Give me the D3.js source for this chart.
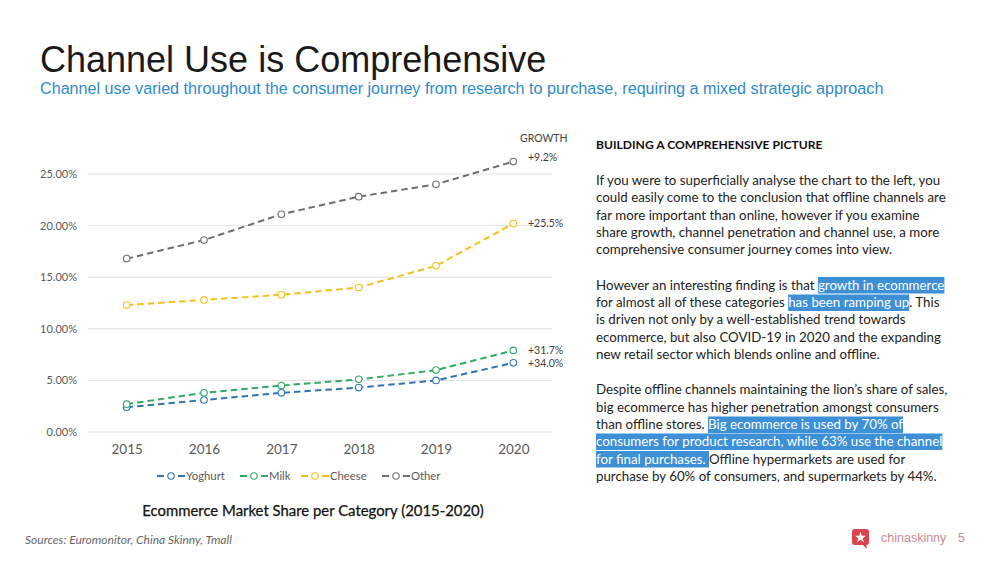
<!DOCTYPE html>
<html><head><meta charset="utf-8">
<script src="https://cdn.jsdelivr.net/npm/d3@7"></script>
<style>
html,body{margin:0;padding:0;background:#fff;}
svg{display:block;}
</style></head>
<body>
<script>
// ---- data ----
const years = ["2015","2016","2017","2018","2019","2020"];
const seriesNames = ["Yoghurt","Milk","Cheese","Other"];
const yoghurt = [2.4, 3.1, 3.8, 4.3, 5.0, 6.7];
const milk    = [2.7, 3.8, 4.5, 5.1, 6.0, 7.9];
const cheese  = [12.3, 12.8, 13.3, 14.0, 16.1, 20.2];
const other   = [16.8, 18.6, 21.1, 22.8, 24.0, 26.2];
const growthLabels = ["+34.0%", "+31.7%", "+25.5%", "+9.2%"];
const yTicks = [0, 5, 10, 15, 20, 25];

const colors = ["#2E75B6", "#2EAA63", "#F2C21B", "#6E6E6E"];
const seriesValues = [yoghurt, milk, cheese, other];

const W = 1000, H = 563;
const svg = d3.select("body").append("svg").attr("width", W).attr("height", H);

// ---- header ----
svg.append("text").attr("x", 40).attr("y", 72)
  .attr("font-family", "Liberation Sans, Arial, sans-serif").attr("font-size", 36)
  .attr("fill", "#1a1a1a").text("Channel Use is Comprehensive");
svg.append("text").attr("x", 40).attr("y", 94)
  .attr("font-family", "Liberation Sans, Arial, sans-serif").attr("font-size", 16.15)
  .attr("fill", "#2E8BC9")
  .text("Channel use varied throughout the consumer journey from research to purchase, requiring a mixed strategic approach");

// ---- chart ----
const x = d3.scalePoint().domain(years).range([88, 552]).padding(0.5);
const y = d3.scaleLinear().domain([0, 25]).range([432, 174]);
const chartFont = "Lato, 'Open Sans', sans-serif";

const g = svg.append("g");
// gridlines
g.selectAll("line.grid").data(yTicks).join("line")
  .attr("x1", 88).attr("x2", 552)
  .attr("y1", d => y(d)).attr("y2", d => y(d))
  .attr("stroke", "#E0E0E0").attr("stroke-width", 1);

// y axis
const yAxis = d3.axisLeft(y).tickValues(yTicks).tickFormat(d => d3.format(".2f")(d) + "%").tickSize(0).tickPadding(11);
const ya = g.append("g").attr("transform", "translate(88,0)").call(yAxis);
ya.select(".domain").remove();
ya.selectAll("text").attr("font-family", chartFont).attr("font-size", 11).attr("fill", "#595959");

// x axis
const xAxis = d3.axisBottom(x).tickSize(0).tickPadding(12);
const xa = g.append("g").attr("transform", "translate(0,432)").call(xAxis);
xa.select(".domain").remove();
xa.selectAll("text").attr("font-family", chartFont).attr("font-size", 13.5).attr("fill", "#595959");

const line = d3.line().x((d, i) => x(years[i])).y(d => y(d));

seriesValues.forEach((vals, si) => {
  g.append("path").datum(vals).attr("d", line)
    .attr("fill", "none").attr("stroke", colors[si]).attr("stroke-width", 2)
    .attr("stroke-dasharray", "6.5,4");
  g.selectAll(null).data(vals).join("circle")
    .attr("cx", (d, i) => x(years[i])).attr("cy", d => y(d)).attr("r", 3.3)
    .attr("fill", "#fff").attr("stroke", colors[si]).attr("stroke-width", 1.1);
});

// growth labels
svg.append("text").attr("x", 520).attr("y", 142)
  .attr("font-family", chartFont).attr("font-size", 10.5).attr("fill", "#404040").text("GROWTH");
const labelDy = [0, 0, 0, -4];
seriesValues.forEach((vals, si) => {
  svg.append("text").attr("x", 528).attr("y", y(vals[vals.length - 1]) + labelDy[si])
    .attr("dy", "0.35em")
    .attr("font-family", chartFont).attr("font-size", 10.5).attr("fill", "#404040")
    .text(growthLabels[si]);
});

// legend
const legendX = [157, 240, 301, 382];
seriesNames.forEach((name, si) => {
  const lx = legendX[si], ly = 476;
  const lg = svg.append("g");
  lg.append("line").attr("x1", lx).attr("x2", lx + 7).attr("y1", ly).attr("y2", ly)
    .attr("stroke", colors[si]).attr("stroke-width", 2);
  lg.append("circle").attr("cx", lx + 14).attr("cy", ly).attr("r", 3.2)
    .attr("fill", "#fff").attr("stroke", colors[si]).attr("stroke-width", 1.1);
  lg.append("line").attr("x1", lx + 21).attr("x2", lx + 28).attr("y1", ly).attr("y2", ly)
    .attr("stroke", colors[si]).attr("stroke-width", 2);
  lg.append("text").attr("x", lx + 29).attr("y", ly).attr("dy", "0.35em")
    .attr("font-family", chartFont).attr("font-size", 11.3).attr("fill", "#595959").text(name);
});

// chart title
svg.append("text").attr("x", 313).attr("y", 516).attr("text-anchor", "middle")
  .attr("font-family", chartFont).attr("font-size", 14.9).attr("fill", "#111")
  .attr("stroke", "#111").attr("stroke-width", 0.25)
  .text("Ecommerce Market Share per Category (2015-2020)");

// ---- right-hand text ----
const tx = 596;
const bodyFont = "Lato, 'Open Sans', sans-serif";
svg.append("text").attr("x", tx).attr("y", 149)
  .attr("font-family", bodyFont).attr("font-size", 12.1).attr("font-weight", "bold")
  .attr("fill", "#111").text("BUILDING A COMPREHENSIVE PICTURE");

const paraLines = [
  {y: 185, segs: [["If you were to superficially analyse the chart to the left, you", false]]},
  {y: 202, segs: [["could easily come to the conclusion that offline channels are", false]]},
  {y: 219.5, segs: [["far more important than online, however if you examine", false]]},
  {y: 237, segs: [["share growth, channel penetration and channel use, a more", false]]},
  {y: 254, segs: [["comprehensive consumer journey comes into view.", false]]},
  {y: 289.5, segs: [["However an interesting finding is that ", false], ["growth in ecommerce", true]]},
  {y: 307, segs: [["for almost all of these categories ", false], ["has been ramping up", true], [". This", false]]},
  {y: 324, segs: [["is driven not only by a well-established trend towards", false]]},
  {y: 341.5, segs: [["ecommerce, but also COVID-19 in 2020 and the expanding", false]]},
  {y: 358.5, segs: [["new retail sector which blends online and offline.", false]]},
  {y: 394, segs: [["Despite offline channels maintaining the lion\u2019s share of sales,", false]]},
  {y: 411.5, segs: [["big ecommerce has higher penetration amongst consumers", false]]},
  {y: 429, segs: [["than offline stores. ", false], ["Big ecommerce is used by 70% of", true]]},
  {y: 446, segs: [["consumers for product research, while 63% use the channel", true]]},
  {y: 463.5, segs: [["for final purchases. ", true], ["Offline hypermarkets are used for", false]]},
  {y: 481, segs: [["purchase by 60% of consumers, and supermarkets by 44%.", false]]}
];
const hlLayer = svg.append("g");
const txtLayer = svg.append("g");
paraLines.forEach(l => {
  const t = txtLayer.append("text").attr("x", tx).attr("y", l.y)
    .attr("font-family", bodyFont).attr("font-size", 13.3).attr("fill", "#222")
    .attr("xml:space", "preserve").style("white-space", "pre");
  const spans = l.segs.map(s => t.append("tspan").text(s[0]).attr("fill", s[1] ? "#fff" : "#222"));
  let cx = tx;
  spans.forEach((sp, i) => {
    const w = sp.node().getComputedTextLength();
    if (l.segs[i][1]) {
      hlLayer.append("rect").attr("x", cx).attr("y", l.y - 12.5).attr("width", w).attr("height", 16.5)
        .attr("fill", "#3D8FD6");
    }
    cx += w;
  });
});

// ---- footer ----
svg.append("text").attr("x", 25).attr("y", 544)
  .attr("font-family", bodyFont).attr("font-size", 12).attr("font-style", "italic")
  .attr("fill", "#666").text("Sources: Euromonitor, China Skinny, Tmall");

const logo = svg.append("g").attr("transform", "translate(852,529)");
logo.append("rect").attr("x", 0).attr("y", 0).attr("width", 17).attr("height", 16).attr("rx", 3).attr("fill", "#D9434E");
logo.append("path").attr("d", "M10,15 L15,20 L14,14 Z").attr("fill", "#D9434E");
const star = d3.symbol().type(d3.symbolStar).size(38);
logo.append("path").attr("d", star()).attr("transform", "translate(8.5,8.5)").attr("fill", "#fff");
svg.append("text").attr("x", 881).attr("y", 542)
  .attr("font-family", "Liberation Sans, Arial, sans-serif").attr("font-size", 12.5)
  .attr("fill", "#C98A92").text("chinaskinny");
svg.append("text").attr("x", 958).attr("y", 542)
  .attr("font-family", "Liberation Sans, Arial, sans-serif").attr("font-size", 12.5)
  .attr("fill", "#C98A92").text("5");
</script>
</body></html>
